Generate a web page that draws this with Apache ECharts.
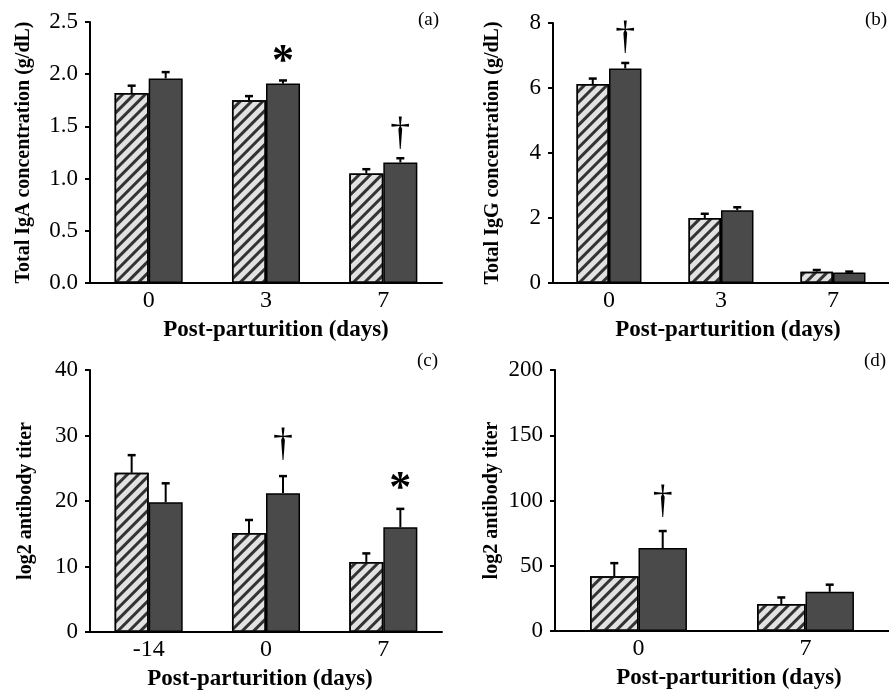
<!DOCTYPE html>
<html>
<head>
<meta charset="utf-8">
<script src="https://cdn.jsdelivr.net/npm/echarts@6/dist/echarts.min.js"></script>
<style>
  html, body { margin: 0; padding: 0; background: #fff; }
  #main { width: 889px; height: 693px; }
</style>
</head>
<body>
<div id="main"></div>
<script>
// panel (a) total IgA
var daysA = ['0', '3', '7'];
var igaCtrl = [1.82, 1.75, 1.05];
var igaCtrlErr = [0.07, 0.04, 0.04];
var igaTrt = [1.96, 1.91, 1.155];
var igaTrtErr = [0.06, 0.03, 0.04];
var sigA = [[1, 2.11, '*'], [2, 1.43, '†']];

// panel (b) total IgG
var daysB = ['0', '3', '7'];
var iggCtrl = [6.12, 2.0, 0.35];
var iggCtrlErr = [0.17, 0.13, 0.05];
var iggTrt = [6.6, 2.24, 0.32];
var iggTrtErr = [0.17, 0.09, 0.03];
var sigB = [[0, 7.55, '†']];

// panel (c) antibody titer
var daysC = ['-14', '0', '7'];
var titerCtrl = [24.3, 15.1, 10.7];
var titerCtrlErr = [2.7, 2.0, 1.3];
var titerTrt = [19.8, 21.2, 16.0];
var titerTrtErr = [2.9, 2.6, 2.8];
var sigC = [[1, 28.7, '†'], [2, 21.7, '*']];

// panel (d) antibody titer
var daysD = ['0', '7'];
var titer2Ctrl = [42, 20.7];
var titer2CtrlErr = [10, 5];
var titer2Trt = [63.6, 30];
var titer2TrtErr = [13, 5.5];
var sigD = [[0, 99.6, '†']];

var FONT = 'Liberation Serif';
var chart = echarts.init(document.getElementById('main'));

function errBar(side) {
    return function (params, api) {
        var c = api.coord([api.value(0), api.value(1)]);
        var t = api.coord([api.value(0), api.value(1) + api.value(2)]);
        var band = api.size([1, 0])[0];
        var x = c[0] + side * band * 0.145;
        return {
            type: 'group',
            children: [
                { type: 'line', shape: { x1: x, y1: c[1], x2: x, y2: t[1] }, style: { stroke: '#000', lineWidth: 2 } },
                { type: 'line', shape: { x1: x - 4, y1: t[1], x2: x + 4, y2: t[1] }, style: { stroke: '#000', lineWidth: 2.5 } }
            ]
        };
    };
}

function sigMark(params, api) {
    var c = api.coord([api.value(0), api.value(1)]);
    var band = api.size([1, 0])[0];
    var txt = sigText[params.seriesIndex][params.dataIndex];
    return {
        type: 'text',
        x: c[0] + band * 0.145,
        y: c[1],
        style: {
            text: txt,
            font: (txt === '*' ? 'bold 44px ' : '40px ') + FONT,
            fill: '#000',
            align: 'center',
            verticalAlign: 'middle'
        }
    };
}

var sigText = {};
var grids = [], xAxes = [], yAxes = [], series = [];

function panel(idx, grid, days, ctrl, ctrlErr, trt, trtErr, sig, yMax, yStep, yName, yGap, dec, namePad) {
    grids.push(grid);
    xAxes.push({
        gridIndex: idx, type: 'category', data: days,
        axisLine: { lineStyle: { color: '#000', width: 2 } },
        axisTick: { show: false },
        axisLabel: { color: '#000', fontFamily: FONT, fontSize: 24, margin: 6 },
        name: 'Post-parturition (days)', nameLocation: 'middle', nameGap: 36,
        nameTextStyle: { color: '#000', fontFamily: FONT, fontSize: 23, fontWeight: 'bold', padding: namePad }
    });
    yAxes.push({
        gridIndex: idx, type: 'value', min: 0, max: yMax, interval: yStep,
        axisLine: { show: true, lineStyle: { color: '#000', width: 2 } },
        axisTick: { show: true, length: 5, lineStyle: { color: '#000', width: 2 } },
        splitLine: { show: false },
        axisLabel: {
            color: '#000', fontFamily: FONT, fontSize: 23, margin: 12,
            formatter: function (v) { return v.toFixed(dec); }
        },
        name: yName, nameLocation: 'middle', nameGap: yGap,
        nameTextStyle: { color: '#000', fontFamily: FONT, fontSize: 20, fontWeight: 'bold' }
    });
    series.push({
        type: 'bar', xAxisIndex: idx, yAxisIndex: idx, data: ctrl,
        barWidth: '29%', barGap: 0,
        itemStyle: {
            color: '#e2e2e2', borderColor: '#000', borderWidth: 1.5,
            decal: { symbol: 'rect', symbolSize: 1, dashArrayX: [1, 0], dashArrayY: [2.5, 5], rotation: -Math.PI / 4, color: '#333' }
        }
    });
    series.push({
        type: 'bar', xAxisIndex: idx, yAxisIndex: idx, data: trt,
        barWidth: '29%', barGap: 0,
        itemStyle: { color: '#4a4a4a', borderColor: '#000', borderWidth: 1.5 }
    });
    series.push({
        type: 'custom', xAxisIndex: idx, yAxisIndex: idx, renderItem: errBar(-1), z: 5,
        data: ctrl.map(function (v, i) { return [i, v, ctrlErr[i]]; })
    });
    series.push({
        type: 'custom', xAxisIndex: idx, yAxisIndex: idx, renderItem: errBar(1), z: 5,
        data: trt.map(function (v, i) { return [i, v, trtErr[i]]; })
    });
    sigText[series.length] = sig.map(function (s) { return s[2]; });
    series.push({
        type: 'custom', xAxisIndex: idx, yAxisIndex: idx, renderItem: sigMark, z: 6, clip: false,
        data: sig.map(function (s) { return [s[0], s[1]]; })
    });
}

panel(0, { left: 90, top: 22, width: 352, height: 261 }, daysA, igaCtrl, igaCtrlErr, igaTrt, igaTrtErr, sigA,
    2.5, 0.5, 'Total IgA concentration (g/dL)', 56, 1, [0, 0, 0, 20]);
panel(1, { left: 553, top: 23, width: 346, height: 260 }, daysB, iggCtrl, iggCtrlErr, iggTrt, iggTrtErr, sigB,
    8, 2, 'Total IgG concentration (g/dL)', 50, 0, [0, 0, 0, 14]);
panel(2, { left: 90, top: 370, width: 352, height: 262 }, daysC, titerCtrl, titerCtrlErr, titerTrt, titerTrtErr, sigC,
    40, 10, 'log2 antibody titer', 54, 0, [0, 12, 0, 0]);
panel(3, { left: 555, top: 370, width: 344, height: 261 }, daysD, titer2Ctrl, titer2CtrlErr, titer2Trt, titer2TrtErr, sigD,
    200, 50, 'log2 antibody titer', 53, 0, [0, 0, 0, 14]);

var labelStyle = { color: '#000', fontFamily: FONT, fontSize: 19, fontWeight: 'normal' };
option = {
    animation: false,
    title: [
        { text: '(a)', left: 418, top: 11, padding: 0, textStyle: labelStyle },
        { text: '(b)', left: 865, top: 11, padding: 0, textStyle: labelStyle },
        { text: '(c)', left: 417, top: 352, padding: 0, textStyle: labelStyle },
        { text: '(d)', left: 864, top: 352, padding: 0, textStyle: labelStyle }
    ],
    grid: grids,
    xAxis: xAxes,
    yAxis: yAxes,
    series: series
};
chart.setOption(option);
</script>
</body>
</html>
